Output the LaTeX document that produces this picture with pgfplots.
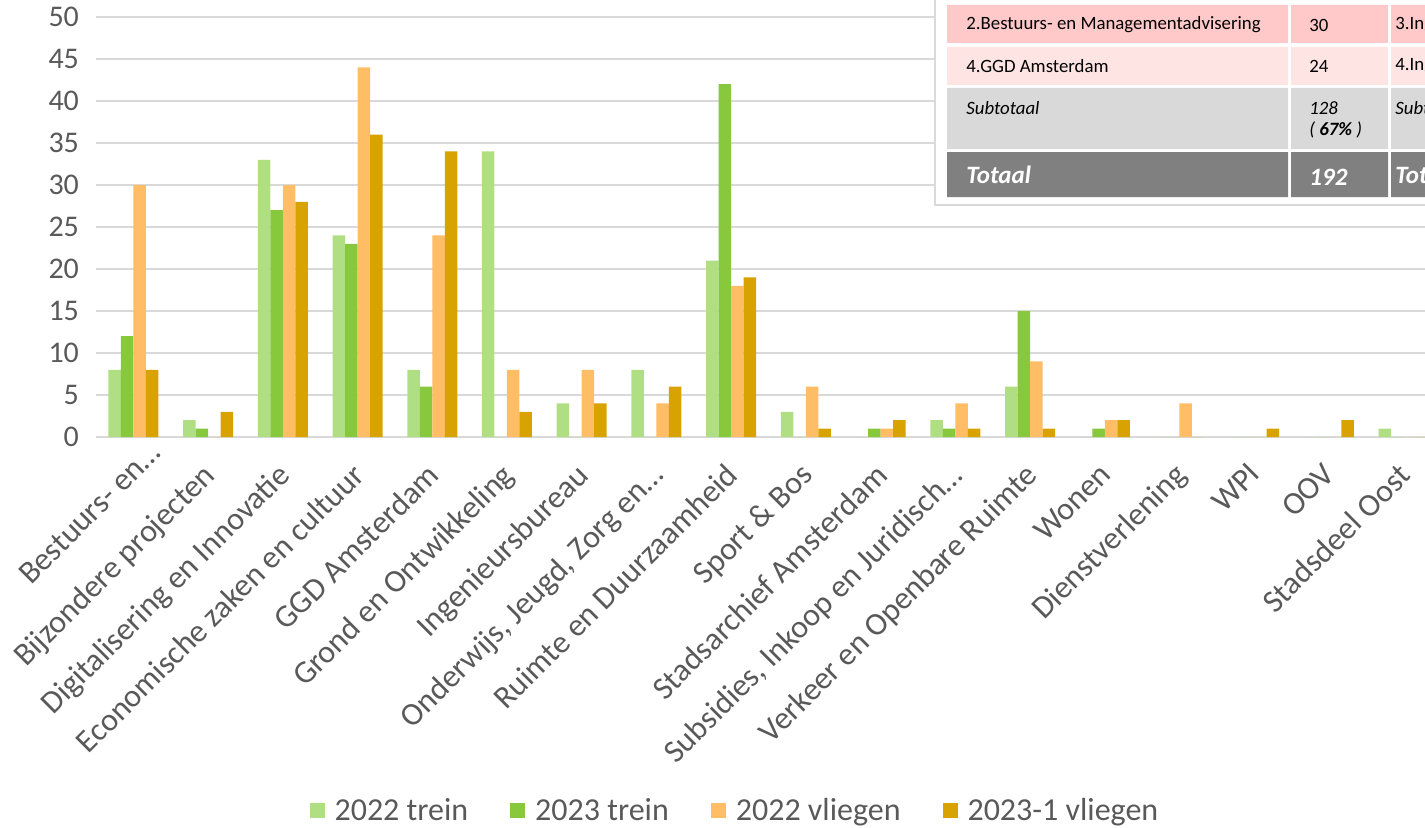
\documentclass[border=0pt]{standalone}
\usepackage{pgfplots}
\pgfplotsset{compat=1.18}
\usepackage{pgfplotstable}
\usepackage{fontspec}
\setmainfont{Carlito}

\definecolor{lgreen}{HTML}{B0DE82}
\definecolor{dgreen}{HTML}{88C83C}
\definecolor{lorange}{HTML}{FFBD66}
\definecolor{gold}{HTML}{D8A300}
\definecolor{gridc}{HTML}{D9D9D9}
\definecolor{txt}{HTML}{595959}
\definecolor{pinkA}{HTML}{FFC9C9}
\definecolor{pinkB}{HTML}{FFE4E4}
\definecolor{greyA}{HTML}{D9D9D9}
\definecolor{greyB}{HTML}{808080}

% afdeling, 2022 trein, 2023 trein, 2022 vliegen, 2023-1 vliegen
\pgfplotstableread{
x a  b  c  d
0  8 12 30  8
1  2  1  0  3
2 33 27 30 28
3 24 23 44 36
4  8  6 24 34
5 34  0  8  3
6  4  0  8  4
7  8  0  4  6
8 21 42 18 19
9  3  0  6  1
10 0  1  1  2
11 2  1  4  1
12 6 15  9  1
13 0  1  2  2
14 0  0  4  0
15 0  0  0  1
16 0  0  0  2
17 1  0  0  0
}\data

\begin{document}
\begin{tikzpicture}
\useasboundingbox (0,0) rectangle (712.5pt,413.5pt);
\clip (0,0) rectangle (712.5pt,413.5pt);

\begin{axis}[
  at={(48pt,195pt)}, anchor=south west,
  scale only axis, width=672.5pt, height=210pt,
  xmin=-0.5, xmax=17.5, ymin=0, ymax=50,
  ybar=0pt, bar width=6.25pt,
  axis line style={draw=none},
  major tick length=0pt,
  ytick={0,5,...,50},
  ymajorgrids, major grid style={gridc, line width=1pt},
  xtick={1,...,17},
  xticklabels={Bijzondere projecten, Digitalisering en Innovatie,
    Economische zaken en cultuur, GGD Amsterdam, Grond en Ontwikkeling,
    Ingenieursbureau, {Onderwijs, Jeugd, Zorg en…}, Ruimte en Duurzaamheid,
    Sport \& Bos, Stadsarchief Amsterdam, {Subsidies, Inkoop en Juridisch…},
    Verkeer en Openbare Ruimte, Wonen, Dienstverlening, WPI, OOV, Stadsdeel Oost},
  extra x ticks={0},
  extra x tick labels={Bestuurs- en…},
  extra x tick style={xticklabel style={xshift=15pt}},
  xticklabel style={rotate=45, anchor=north east, font=\fontsize{16}{18}\selectfont,
    text=txt, inner sep=1pt, xshift=-10pt, yshift=-5pt},
  yticklabel style={font=\fontsize{15}{18}\selectfont, text=txt, xshift=-5pt},
  /pgf/number format/assume math mode=true,
  legend columns=4,
  legend style={at={(0.478,-0.89)}, anchor=center, draw=none, fill=none,
    font=\fontsize{16}{18}\selectfont, text=txt,
    nodes={inner xsep=5pt},
    /tikz/every even column/.append style={column sep=16pt}},
  legend image code/.code={\fill[#1] (0pt,-3.75pt) rectangle (7.5pt,3.75pt);},
]
\addplot[fill=lgreen, draw=none] table[x=x, y=a] {\data};
\addplot[fill=dgreen, draw=none] table[x=x, y=b] {\data};
\addplot[fill=lorange, draw=none] table[x=x, y=c] {\data};
\addplot[fill=gold, draw=none] table[x=x, y=d] {\data};
\legend{2022 trein, 2023 trein, 2022 vliegen, 2023-1 vliegen}
\end{axis}

% overlapping table (top right)
\begin{scope}[shift={(0pt,413.5pt)}, x=0.5pt, y=-0.5pt]
\fill[white] (935,-5) rectangle (1440,205);
\draw[gridc, line width=0.8pt] (935,-5) rectangle (1440,205);
\fill[pinkA] (947,5) rectangle (1288,43) (1291,5) rectangle (1388,43) (1391,5) rectangle (1440,43);
\fill[pinkB] (947,47) rectangle (1288,85) (1291,47) rectangle (1388,85) (1391,47) rectangle (1440,85);
\fill[greyA] (947,88) rectangle (1288,149) (1291,88) rectangle (1388,149) (1391,88) rectangle (1440,149);
\fill[greyB] (947,152) rectangle (1288,197) (1291,152) rectangle (1388,197) (1391,152) rectangle (1440,197);
\begin{scope}[every node/.style={anchor=west, inner sep=0pt, font=\fontsize{9.4}{11}\selectfont}]
\node at (966,25) {2.Bestuurs- en Managementadvisering};
\node at (1309,25) {30};
\node at (1395,25) {3.Ingenieursbureau};
\node at (966,66) {4.GGD Amsterdam};
\node at (1309,66) {24};
\node at (1395,66) {4.Ingenieursbureau};
\node at (966,108) {\itshape Subtotaal};
\node at (1309,108) {\itshape 128};
\node at (1309,130) {\itshape ( \textbf{67\%} )};
\node at (1395,108) {\itshape Subtotaal};
\node[font=\fontsize{12.5}{14}\selectfont\bfseries\itshape, text=white] at (966,175) {Totaal};
\node[font=\fontsize{12.5}{14}\selectfont\bfseries\itshape, text=white] at (1309,177) {192};
\node[font=\fontsize{12.5}{14}\selectfont\bfseries\itshape, text=white] at (1395,175) {Totaal};
\end{scope}
\end{scope}
\end{tikzpicture}
\end{document}
